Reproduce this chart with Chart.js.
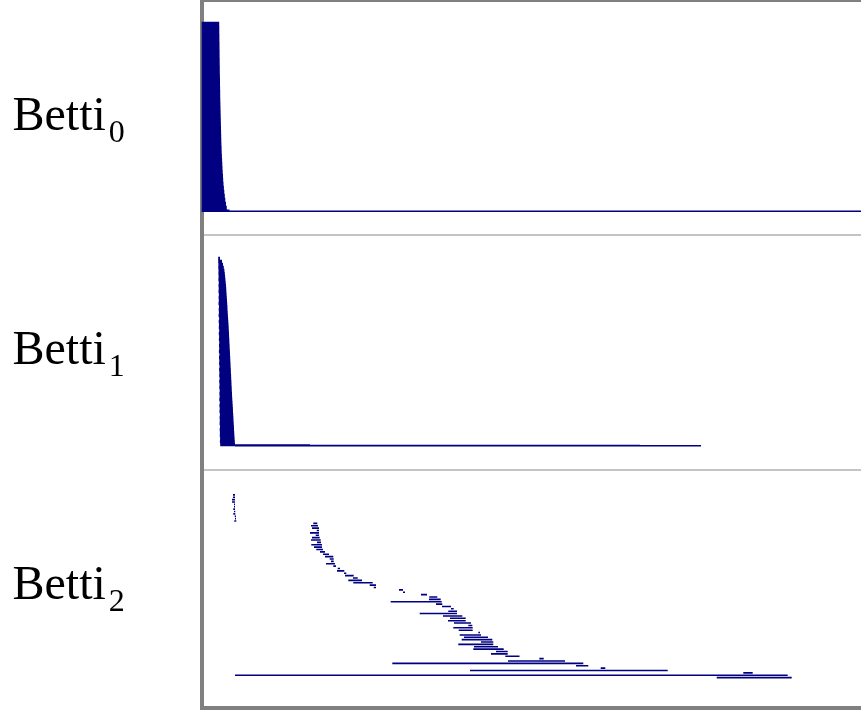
<!DOCTYPE html>
<html>
<head>
<meta charset="utf-8">
<title>Betti barcodes</title>
<script src="https://cdn.jsdelivr.net/npm/chart.js@4"></script>
<style>
  html, body { margin: 0; padding: 0; background: #ffffff; }
  canvas { display: block; }
</style>
</head>
<body>
<canvas id="myBarcode" width="861" height="720"></canvas>
<script>
var bettiNames = ["Betti", "Betti", "Betti"];
var bettiSubs = ["0", "1", "2"];
var xMax = 657;

// Betti 0: the bars all start just left of the frame edge
var betti0Start = [-2.3,-2.3,-2.3,-2.3,-2.3,-2.3,-2.3,-2.3,-2.3,-2.3,-2.3,
  -2.3,-2.3,-2.3,-2.3,-2.3,-2.3,-2.3,-2.3,-2.3,-2.3,
  -2.3,-2.3,-2.3,-2.3,-2.3,-2.3,-2.3,-2.3,-2.3,-2.3,
  -2.3,-2.3,-2.3,-2.3,-2.3,-2.3,-2.3,
  -2.3,-2.3,-2.3,-2.3,-2.3,-2.3,-2.3,-2.3,-2.3];
var betti0End = [15.2,15.3,15.3,15.4,15.4,15.5,15.5,15.6,15.6,15.7,15.7,
  15.8,15.8,15.9,16,16,16.1,16.2,16.2,16.3,16.4,
  16.5,16.6,16.7,16.8,16.9,17,17.1,17.2,17.3,17.4,
  17.6,17.7,17.9,18.1,18.3,18.5,18.7,
  19,19.2,19.5,19.9,20.3,20.8,21.3,22,22.8];
var betti0TailRow = [46.55, 46.82];
var betti0TailStart = [-2.3, -2.3];
var betti0TailEnd = [25.5, 657];

// Betti 1
var betti1Start = [14.2,14.2,14.4,14.3,14.5,14.4,14.6,14.4,14.8,14.5,14.7,14.5,14.9,14.6,14.8,14.5,
  15,14.7,14.9,14.6,15.1,14.7,15,14.8,15.2,14.8,15.1,14.9,15.3,15,15.2,14.9,
  15.4,15,15.3,15.1,15.5,15.1,15.4,15.2,15.6,15.2,15.5,15.3,15.7,15.4,15.6,15.3,
  15.8,15.4,15.7,15.5,15.9,15.6,15.8,15.6,16,15.7,15.9,15.8,16.1,15.9,16.2];
var betti1End = [16,18,19,19.8,20.4,20.8,21.1,21.4,21.7,22,22.2,22.4,22.6,22.8,23,23.2,
  23.4,23.5,23.7,23.9,24.1,24.3,24.5,24.7,24.8,25,25.1,25.3,25.4,25.6,25.7,25.9,
  26,26.2,26.3,26.5,26.6,26.8,26.9,27.1,27.2,27.4,27.5,27.7,27.8,28,28.1,28.3,
  28.5,28.7,28.9,29,29.2,29.4,29.5,29.7,29.9,30,30.2,30.4,30.6,30.8,31];
var betti1TailRow = [62.15, 62.3, 62.42];
var betti1TailStart = [31, 31, 31];
var betti1TailEnd = [106, 436, 497];

// Betti 2
var betti2Start = [29,29,28,28,30,30,29.3,30,29.3,30.7,31,30.3,
  109.3,107,108,112.7,106,111.7,108,107,113,107.3,110,112.3,116,119,121,125.7,127,122,129.3,133.7,
  133,140,141,149,144.3,149.3,165.7,169.7,
  195,199,217,225.3,225,186.7,232,238,247,244.3,215.7,239,246,244,250,264.3,249.3,254.7,274.3,255.7,
  260,257.7,277,254.3,270,269.3,292,287,
  301.3,335.3,304,188.3,372,396.7,266,539.3,31,512.7];
var betti2End = [31,31,31,31,31,31,31,31.3,31.3,32,32,32.3,
  113.3,114,115,115,115,115,115.7,116.7,117,118,118,119,121,125,129.3,129.7,129.7,131,132,136,
  140.3,142.3,149.7,153.7,158,168.7,172,172,
  199,201,223,233.3,236.7,237.7,238.3,247,249.7,253,253,258.3,261.7,261.7,267,268.3,268.7,268.7,276,277,
  284,288.3,289.3,289.3,294,299.7,303.7,303.7,
  315.5,339.7,361,379.3,384.3,401.3,463.7,548.7,583.7,587.7];

// one line dataset per group of bars, a null point breaks the line between bars
function barPoints(starts, ends, rows) {
  var pts = [];
  for (var i = 0; i < starts.length; i++) {
    var row = rows ? rows[i] : i;
    pts.push({x: starts[i], y: row});
    pts.push({x: ends[i], y: row});
    pts.push({x: ends[i], y: null});
  }
  return pts;
}

function barSet(axis, width, color, pts) {
  return {
    yAxisID: axis,
    data: pts,
    showLine: true,
    borderColor: color,
    borderWidth: width,
    borderCapStyle: "butt",
    pointRadius: 0,
    pointHoverRadius: 0,
    tension: 0,
    spanGaps: false,
    clip: {left: 3, top: 0, right: 0, bottom: 0}
  };
}

function rowAxis(min, max, weight) {
  return {
    type: "linear",
    position: "left",
    stack: "betti",
    stackWeight: weight,
    reverse: true,
    min: min,
    max: max,
    grid: {display: false},
    border: {display: false},
    ticks: {display: false},
    afterFit: function (scale) { scale.width = 0; }
  };
}

// frame goes under the bars, the Betti 0 bars overlap its left edge
var framePlugin = {
  id: "frame",
  beforeDatasetsDraw: function (chart) {
    var c = chart.ctx, a = chart.chartArea;
    var panels = [chart.scales.y0, chart.scales.y1, chart.scales.y2];
    c.save();
    c.fillStyle = "#c4c4c4";
    c.fillRect(a.left, panels[0].bottom - 1, a.right - a.left, 2);
    c.fillRect(a.left, panels[1].bottom - 1, a.right - a.left, 2);
    c.fillStyle = "#808080";
    c.fillRect(a.left - 4, 0, 4, 710);
    c.fillRect(a.left - 4, 0, a.right - a.left + 4, 2);
    c.fillRect(a.left - 4, 706, a.right - a.left + 4, 4);
    c.textBaseline = "alphabetic";
    c.textAlign = "left";
    c.fillStyle = "#000000";
    for (var i = 0; i < panels.length; i++) {
      var base = (panels[i].top + panels[i].bottom) / 2 + 11.3;
      c.font = "48px 'Liberation Serif'";
      c.fillText(bettiNames[i], 12.5, base);
      var w = c.measureText(bettiNames[i]).width;
      c.font = "32px 'Liberation Serif'";
      c.fillText(bettiSubs[i], 12.5 + w + 3, base + 11.7);
    }
    c.restore();
  }
};

var myBarcode = new Chart(document.getElementById("myBarcode"), {
  type: "scatter",
  data: {
    datasets: [
      barSet("y0", 4.3, "#000080", barPoints(betti0Start, betti0End)),
      barSet("y0", 1.5, "#000080", barPoints(betti0TailStart, betti0TailEnd, betti0TailRow)),
      barSet("y1", 3.4, "#000080", barPoints(betti1Start, betti1End)),
      barSet("y1", 1.3, "#000080", barPoints(betti1TailStart, betti1TailEnd, betti1TailRow)),
      barSet("y2", 1.6, "#000080", barPoints(betti2Start, betti2End))
    ]
  },
  options: {
    responsive: false,
    animation: false,
    events: [],
    layout: {padding: {left: 204, right: 0, top: 2, bottom: 14}},
    plugins: {legend: {display: false}, tooltip: {enabled: false}},
    scales: {
      x: {type: "linear", display: false, min: 0, max: xMax},
      y2: rowAxis(-10.5, 88.95, 236),
      y1: rowAxis(-7.83, 70.5, 235),
      y0: rowAxis(-5.5, 52.75, 233)
    }
  },
  plugins: [framePlugin]
});
</script>
</body>
</html>
